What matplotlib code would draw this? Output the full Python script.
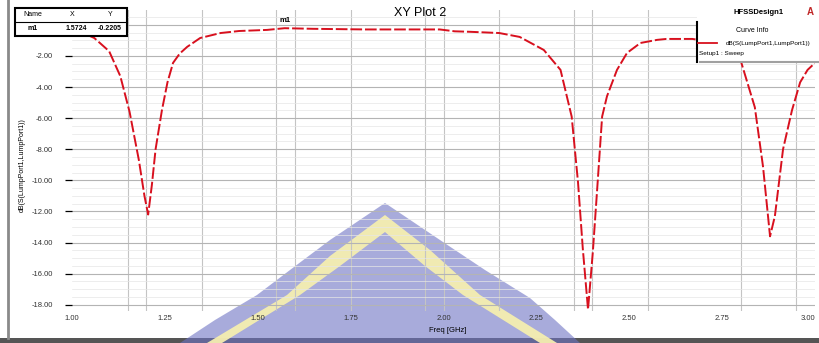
import matplotlib
matplotlib.use("Agg")
import matplotlib.pyplot as plt
from matplotlib.patches import Polygon, Rectangle
from matplotlib.lines import Line2D
from matplotlib.ticker import MultipleLocator

plt.rcParams["font.family"] = ["Liberation Sans", "DejaVu Sans"]

# S11 sweep (GHz, dB)
freq = [1.00, 1.03, 1.06, 1.10, 1.13, 1.155, 1.18, 1.195, 1.205, 1.215, 1.225,
        1.242, 1.257, 1.272, 1.29, 1.31, 1.345, 1.40, 1.45, 1.525, 1.5724,
        1.65, 1.79, 1.99, 2.03, 2.07, 2.15, 2.205, 2.27, 2.315, 2.345, 2.362,
        2.375, 2.389, 2.402, 2.413, 2.427, 2.44, 2.467, 2.494, 2.53, 2.575,
        2.60, 2.67, 2.72, 2.76, 2.80, 2.838, 2.86, 2.879, 2.892, 2.914, 2.938,
        2.96, 2.98, 3.00]
s11 = [-0.42, -0.53, -0.85, -1.70, -3.30, -5.60, -8.7, -11.0, -12.2, -10.3, -8.0,
       -5.5, -3.7, -2.45, -1.85, -1.42, -0.85, -0.53, -0.40, -0.33, -0.22,
       -0.26, -0.30, -0.30, -0.42, -0.45, -0.53, -0.78, -1.62, -2.9, -5.9, -10.1,
       -14.4, -18.3, -14.6, -10.8, -5.9, -4.6, -2.9, -1.81, -1.17, -0.97,
       -0.91, -0.91, -1.1, -1.5, -2.3, -5.3, -9.1, -13.6, -12.3, -8.0, -5.5,
       -3.7, -2.9, -2.45]

marker_name = "m1"
marker_x = 1.5724
marker_y = -0.2205

x_ticks = [1.00, 1.25, 1.50, 1.75, 2.00, 2.25, 2.50, 2.75, 3.00]
y_ticks = [0, -2, -4, -6, -8, -10, -12, -14, -16, -18]
x_grid = [1.15, 1.20, 1.35, 1.55, 1.60, 1.75, 1.95, 2.00, 2.15, 2.35, 2.40,
          2.55, 2.80, 2.95]

W, H = 819, 343


def px(x, y):
    # pixel position (from top-left) -> figure fraction
    return x / W, 1 - y / H


fig = plt.figure(figsize=(W / 100, H / 100), dpi=100)
fig.patch.set_facecolor("white")

ax = fig.add_axes([72 / W, 1 - 311 / H, 743 / W, 301 / H])
ax.patch.set_alpha(0)
ax.set_xlim(1.0, 3.0)
ax.set_ylim(-18.4, 0.95)

# grid: light minor lines + darker majors
ax.yaxis.set_minor_locator(MultipleLocator(0.5))
ax.set_yticks(y_ticks)
ax.set_yticklabels([f"{v:.2f}" for v in y_ticks])
ax.set_xticks(x_ticks)
ax.set_xticklabels([f"{v:.2f}" for v in x_ticks])
ax.get_xticklabels()[-1].set_horizontalalignment("right")
ax.grid(axis="y", which="minor", color="#e6e6e6", lw=0.5)
ax.grid(axis="y", which="major", color="#b4b4b4", lw=0.8)
for g in x_grid:
    ax.axvline(g, color="#c4c4c4", lw=0.8, zorder=0.5)

for s in ax.spines.values():
    s.set_visible(False)
ax.tick_params(axis="y", which="major", length=5, width=0.9, pad=9,
               labelsize=5.5, labelcolor="#333333", direction="out")
ax.tick_params(axis="y", which="minor", length=0)
ax.tick_params(axis="x", length=0, pad=3, labelsize=5.5, labelcolor="#333333")

ax.plot(freq, s11, color="#d8101e", lw=1.4, ls=(0, (6, 1.5)), zorder=3)

ax.annotate(marker_name, (marker_x, marker_y), xytext=(0, 3),
            textcoords="offset points", ha="center", va="bottom",
            fontsize=5.5, fontweight="bold", zorder=4)

fig.text(*px(420, 13), "XY Plot 2", ha="center", va="center", fontsize=9)
fig.text(*px(448, 330), "Freq [GHz]", ha="center", va="center", fontsize=5.5)
fig.text(*px(22, 165), "dB(S(LumpPort1,LumpPort1))", rotation=90,
         ha="center", va="center", fontsize=5)

# marker table (top left)
x0, y0 = px(15, 36)
x1, y1 = px(127, 8)
fig.patches.append(Rectangle((x0, y0), x1 - x0, y1 - y0, transform=fig.transFigure,
                             facecolor="white", edgecolor="black", lw=1.5, zorder=5))
fig.lines.append(Line2D([x0, x1], [px(0, 22)[1]] * 2, transform=fig.transFigure,
                        color="black", lw=0.8, zorder=6))
for xp_, txt in [(33, "Name"), (72, "X"), (110, "Y")]:
    fig.text(*px(xp_, 15), txt, ha="center", va="center", fontsize=5, zorder=7)
for xp_, txt in [(33, marker_name), (76, f"{marker_x:.4f}"), (110, f"{marker_y:.4f}")]:
    fig.text(*px(xp_, 29), txt, ha="center", va="center", fontsize=5,
             fontweight="bold", zorder=7)

# curve info box (top right)
lx0, ly0 = px(697, 62)
lx1, ly1 = px(819, 0)
fig.patches.append(Rectangle((lx0, ly0), lx1 - lx0, ly1 - ly0, transform=fig.transFigure,
                             facecolor="white", edgecolor="none", zorder=5))
fig.lines.append(Line2D([lx0, lx0], [ly0, px(0, 22)[1]], transform=fig.transFigure,
                        color="black", lw=1.5, zorder=6))
fig.lines.append(Line2D([px(700, 0)[0], lx1], [ly0, ly0], transform=fig.transFigure,
                        color="#a0a0a0", lw=1.5, zorder=6))
fig.lines.append(Line2D([px(698, 0)[0], px(717, 0)[0]], [px(0, 43)[1]] * 2,
                        transform=fig.transFigure, color="#d8101e", lw=1.3, zorder=6))
fig.text(*px(752, 30), "Curve Info", ha="center", va="center", fontsize=5, zorder=7)
fig.text(*px(726, 43), "dB(S(LumpPort1,LumpPort1))", ha="left", va="center",
         fontsize=4.6, zorder=7)
fig.text(*px(699, 53), "Setup1 : Sweep", ha="left", va="center", fontsize=4.6, zorder=7)
fig.text(*px(733, 12), "HFSSDesign1", ha="left", va="center", fontsize=5.5,
         fontweight="bold", zorder=7)
fig.text(*px(810, 12), "A", ha="center", va="center", fontsize=7,
         fontweight="bold", color="#c02828", zorder=7)

# window border: left edge line and dark bottom bar
fig.lines.append(Line2D([px(8, 0)[0]] * 2, [px(0, 0)[1], px(0, 338)[1]],
                        transform=fig.transFigure, color="#8a8a8a", lw=2, zorder=2))
bx0, by0 = px(0, 343)
fig.patches.append(Rectangle((bx0, by0), 1, 5 / H, transform=fig.transFigure,
                             facecolor="#555555", edgecolor="none", zorder=-2))

# faint watermark behind the plot
outer = [(385, 203), (330, 240), (290, 270), (257, 295), (215, 320), (180, 343),
         (580, 343), (555, 320), (530, 298), (485, 270), (440, 240)]
stripe_l = [(385, 215), (330, 256), (287, 295), (207, 343), (222, 343), (300, 295),
            (340, 266), (385, 232)]
stripe_r = [(385, 215), (430, 250), (480, 295), (557, 343), (540, 343), (463, 295),
            (425, 266), (385, 232)]
fig.patches.append(Polygon([px(*p) for p in outer], closed=True, transform=fig.transFigure,
                           facecolor="#6f74c4", edgecolor="none", alpha=0.6, zorder=-1))
for st in (stripe_l, stripe_r):
    fig.patches.append(Polygon([px(*p) for p in st], closed=True, transform=fig.transFigure,
                               facecolor="#f5eeb0", edgecolor="none", alpha=0.95, zorder=-0.5))

fig.savefig("out.png", dpi=100)
